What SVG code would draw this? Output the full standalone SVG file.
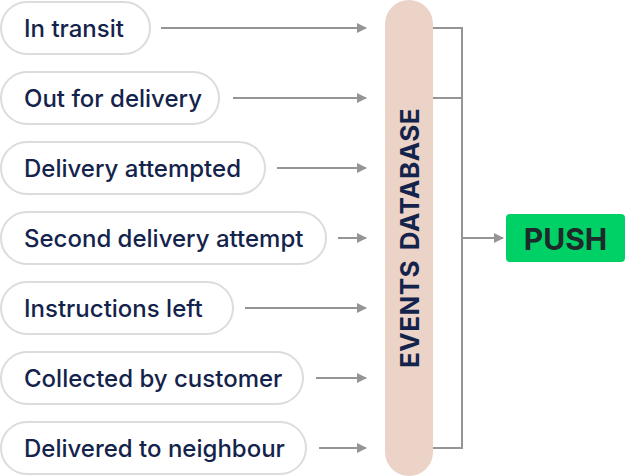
<svg xmlns="http://www.w3.org/2000/svg" width="625" height="476" viewBox="0 0 625 476">
<style>
.pill{fill:#fff;stroke:#dcdcdc;stroke-width:2}
.lbl{font-family:Inter,"Noto Sans",sans-serif;font-size:24px;font-weight:500;fill:#14234b;dominant-baseline:central}
.ln{stroke:#959595;stroke-width:2;fill:none}
</style>
<defs>
<marker id="ah" markerWidth="10" markerHeight="10" refX="9" refY="5" orient="auto" markerUnits="userSpaceOnUse">
<path d="M0,0 L10,5 L0,10 z" fill="#959595"/>
</marker>
</defs>
<g id="connectors">
<line class="ln" x1="161" y1="28" x2="366" y2="28" marker-end="url(#ah)"/>
<line class="ln" x1="233" y1="98" x2="366" y2="98" marker-end="url(#ah)"/>
<line class="ln" x1="277" y1="168" x2="366" y2="168" marker-end="url(#ah)"/>
<line class="ln" x1="338" y1="238" x2="366" y2="238" marker-end="url(#ah)"/>
<line class="ln" x1="245" y1="308" x2="366" y2="308" marker-end="url(#ah)"/>
<line class="ln" x1="316" y1="378" x2="366" y2="378" marker-end="url(#ah)"/>
<line class="ln" x1="319" y1="448" x2="366" y2="448" marker-end="url(#ah)"/>
<path class="ln" d="M433,28 H462 V448 H433 M433,98 H462"/>
<line class="ln" x1="462" y1="238" x2="503" y2="238" marker-end="url(#ah)"/>
</g>
<g id="n1"><rect class="pill" x="1" y="2" width="149" height="52" rx="26"/><text class="lbl" x="24" y="28">In transit</text></g>
<g id="n2"><rect class="pill" x="1" y="72" width="218" height="52" rx="26"/><text class="lbl" x="24" y="98">Out for delivery</text></g>
<g id="n3"><rect class="pill" x="1" y="142" width="264" height="52" rx="26"/><text class="lbl" x="24" y="168">Delivery attempted</text></g>
<g id="n4"><rect class="pill" x="1" y="212" width="325" height="52" rx="26"/><text class="lbl" x="24" y="238">Second delivery attempt</text></g>
<g id="n5"><rect class="pill" x="1" y="282" width="232" height="52" rx="26"/><text class="lbl" x="24" y="308">Instructions left</text></g>
<g id="n6"><rect class="pill" x="1" y="352" width="302" height="52" rx="26"/><text class="lbl" x="24" y="378">Collected by customer</text></g>
<g id="n7"><rect class="pill" x="1" y="422" width="305" height="52" rx="26"/><text class="lbl" x="24" y="448">Delivered to neighbour</text></g>
<g id="db"><rect x="385" y="0" width="48" height="476" rx="24" fill="#ebd3c7"/>
<text x="409" y="238" transform="rotate(-90 409 238)" text-anchor="middle" dominant-baseline="central" font-family="Inter,'Noto Sans',sans-serif" font-size="26" font-weight="700" fill="#14234b" letter-spacing="0.5" word-spacing="3">EVENTS DATABASE</text></g>
<g id="push"><rect x="506" y="214" width="119" height="48" rx="4" fill="#00d166"/>
<text x="565.5" y="239" text-anchor="middle" dominant-baseline="central" font-family="Inter,'Noto Sans',sans-serif" font-size="30" font-weight="700" fill="#1e2a2a">PUSH</text></g>
</svg>
